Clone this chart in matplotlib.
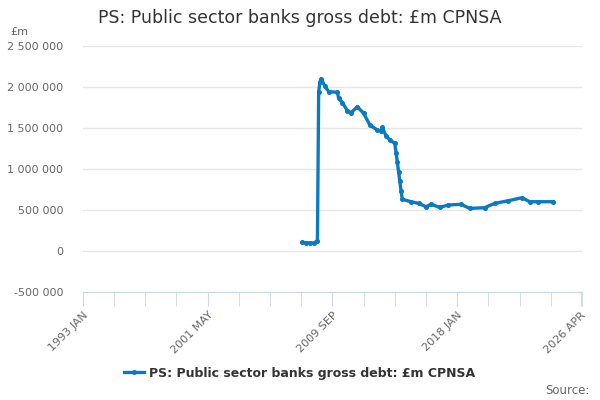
"""
PS: Public sector banks gross debt, £m CPNSA
"""
import numpy as np
import matplotlib
matplotlib.use("Agg")
import matplotlib.pyplot as plt
from matplotlib.ticker import FuncFormatter

#------------------------------------------------------------------------------
# Data
#------------------------------------------------------------------------------

periods = ["2007-09", "2007-12", "2008-03", "2008-06", "2008-09", "2008-10",
           "2008-11", "2008-12", "2009-03", "2009-06", "2010-01", "2010-02",
           "2010-05", "2010-09", "2010-12", "2011-05", "2011-10", "2012-03",
           "2012-09", "2012-12", "2013-01", "2013-04", "2013-07", "2013-11",
           "2013-12", "2014-01", "2014-02", "2014-03", "2014-04", "2014-05",
           "2014-12", "2015-06", "2015-12", "2016-04", "2016-11", "2017-06",
           "2018-04", "2018-11", "2019-11", "2020-07", "2021-06", "2022-05",
           "2022-11", "2023-06", "2024-06"]
values = [105000, 100000, 100000, 95000, 125000, 1943000,
          2060000, 2098000, 2010000, 1943000, 1935000, 1862000,
          1809000, 1711000, 1687000, 1760000, 1679000, 1537000,
          1476000, 1463000, 1508000, 1402000, 1354000, 1313000,
          1199000, 1089000, 967000, 857000, 735000, 630000,
          601000, 581000, 540000, 569000, 533000, 561000,
          569000, 520000, 528000, 581000, 613000, 650000,
          601000, 601000, 601000]

tick_labels = ["1993 JAN", "2001 MAY", "2009 SEP", "2018 JAN", "2026 APR"]
series_name = "PS: Public sector banks gross debt: £m CPNSA"


def month_index(s):
    y, m = s.split("-")
    return (int(y) - 1993) * 12 + int(m) - 1


x = np.array([month_index(p) for p in periods])
y = np.array(values)

#------------------------------------------------------------------------------
# Plot
#------------------------------------------------------------------------------

line_col = "#0b7bc1"
fig = plt.figure(figsize=(6, 4), dpi=100)
ax = fig.add_axes([0.138, 0.27, 0.832, 0.615])

ax.plot(x, y, color=line_col, lw=2.4, marker="o", ms=2.6, label=series_name)

for s in ["top", "right", "left"]:
    ax.spines[s].set_visible(False)
ax.spines["bottom"].set_color("#ccd6eb")

ax.set_xlim(0, 399)
ax.set_ylim(-500000, 2500000)
ax.set_yticks(np.arange(-500000, 2500001, 500000))
ax.yaxis.set_major_formatter(FuncFormatter(lambda v, p: f"{int(v):,}".replace(",", " ")))
ax.grid(axis="y", color="#e6e6e6", lw=1)
ax.set_axisbelow(True)

ax.set_xticks(np.arange(0, 401, 25), minor=True)
ax.set_xticks([0, 100, 200, 300, 399])
ax.set_xticklabels(tick_labels, rotation=45, ha="right", rotation_mode="anchor")
ax.tick_params(axis="x", which="both", length=10, color="#ccd6eb", labelsize=8,
               labelcolor="#666666", pad=3)
ax.tick_params(axis="y", length=0, labelsize=8, labelcolor="#666666", pad=14)

fig.text(0.5, 0.955, series_name, ha="center", va="center", fontsize=12.5,
         color="#333333")
fig.text(0.017, 0.92, "£m", ha="left", va="center", fontsize=8, color="#666666")
fig.text(0.982, 0.025, "Source:", ha="right", va="center", fontsize=8.5,
         color="#666666")

leg = fig.legend(loc="center", bbox_to_anchor=(0.5, 0.067), frameon=False,
                 prop={"size": 9, "weight": "bold"}, handlelength=1.6,
                 handletextpad=0.4)
for t in leg.get_texts():
    t.set_color("#333333")

fig.savefig("out.png", dpi=100)
